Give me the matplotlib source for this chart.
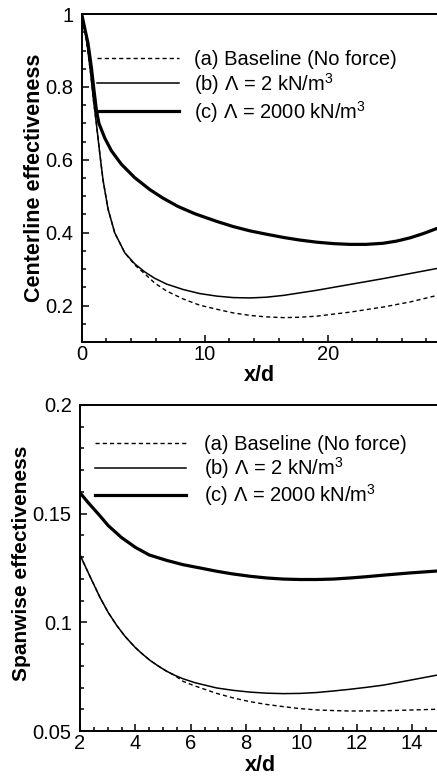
import matplotlib
matplotlib.use('Agg')
from matplotlib import pyplot as plt
from matplotlib.ticker import MultipleLocator, FormatStrFormatter

plt.rcParams['font.family'] = ['Liberation Sans', 'DejaVu Sans']
plt.rcParams['mathtext.default'] = 'regular'

# centerline effectiveness (top panel)
top_x_a = [0, 0.25, 0.5, 0.75, 0.95, 1.19, 1.46, 1.73, 2.14, 2.68, 3.5, 4.3, 5.1, 5.93,
           6.9, 8.26, 9.6, 10.98, 12.3, 13.68, 15, 16.4, 17.7, 19.1, 21.8, 24.5, 26.7,
           28.9, 29.5]
top_y_a = [1, 0.96, 0.9, 0.83, 0.765, 0.70, 0.62, 0.545, 0.465, 0.40, 0.345, 0.312,
           0.288, 0.262, 0.24, 0.218, 0.201, 0.19, 0.18, 0.173, 0.169, 0.167, 0.168,
           0.171, 0.182, 0.196, 0.21, 0.228, 0.233]
top_x_b = [0, 0.25, 0.5, 0.75, 0.95, 1.19, 1.46, 1.73, 2.14, 2.68, 3.5, 4.3, 5.1, 5.93,
           6.9, 8.26, 9.6, 10.98, 12.3, 13.68, 15, 16.4, 19.1, 21.8, 24.5, 28.9, 29.5]
top_y_b = [1, 0.96, 0.9, 0.83, 0.765, 0.70, 0.62, 0.545, 0.465, 0.40, 0.345, 0.315,
           0.293, 0.275, 0.259, 0.244, 0.233, 0.226, 0.222, 0.221, 0.223, 0.228, 0.242,
           0.258, 0.274, 0.302, 0.306]
top_x_c = [0, 0.25, 0.51, 0.78, 1.0, 1.2, 1.4, 1.87, 2.41, 3.22, 4.31, 5.55, 6.6, 7.83,
           9.2, 10.98, 12.3, 13.68, 15, 16.4, 17.7, 19.1, 20.5, 21.8, 23.1, 24.5, 25.6,
           26.7, 27.8, 28.9, 29.5]
top_y_c = [1, 0.96, 0.92, 0.855, 0.79, 0.735, 0.70, 0.66, 0.625, 0.588, 0.551, 0.518,
           0.495, 0.472, 0.452, 0.431, 0.417, 0.405, 0.396, 0.387, 0.38, 0.374, 0.37,
           0.368, 0.368, 0.371, 0.377, 0.386, 0.398, 0.412, 0.42]

# spanwise effectiveness (bottom panel)
bot_x_a = [2, 2.2, 2.42, 2.72, 3.02, 3.33, 3.63, 3.99, 4.23, 4.53, 4.84, 5.13, 5.43,
           5.73, 6.16, 6.94, 7.54, 8.14, 8.75, 9.35, 9.95, 10.55, 11.15, 11.76, 12.96,
           14.9, 15.5]
bot_y_a = [0.131, 0.1255, 0.1195, 0.1115, 0.1045, 0.0985, 0.0935, 0.0885, 0.0857,
           0.0825, 0.0798, 0.0775, 0.0755, 0.0728, 0.0707, 0.0673, 0.0652, 0.0635,
           0.0622, 0.0612, 0.0603, 0.0597, 0.0594, 0.0592, 0.0593, 0.060, 0.0602]
bot_x_b = [2, 2.2, 2.42, 2.72, 3.02, 3.33, 3.63, 3.99, 4.23, 4.53, 4.84, 5.13, 5.43,
           5.73, 6.16, 6.94, 7.54, 8.14, 8.75, 9.35, 9.95, 10.55, 11.15, 11.76, 12.36,
           12.96, 13.9, 14.9, 15.5]
bot_y_b = [0.131, 0.1255, 0.1195, 0.1115, 0.1045, 0.0985, 0.0935, 0.0885, 0.0857,
           0.0825, 0.0798, 0.0775, 0.0756, 0.074, 0.0722, 0.0698, 0.0687, 0.0679,
           0.0674, 0.0672, 0.0673, 0.0677, 0.0684, 0.0692, 0.0701, 0.0711, 0.0733,
           0.0757, 0.0771]
bot_x_c = [2, 2.3, 2.72, 3.02, 3.5, 4.0, 4.5, 5.13, 5.73, 6.34, 6.94, 7.5, 8.14, 8.75,
           9.35, 9.95, 10.55, 11.15, 11.76, 12.36, 12.96, 13.9, 14.9, 15.5]
bot_y_c = [0.1596, 0.155, 0.149, 0.1445, 0.139, 0.1345, 0.131, 0.1285, 0.1265, 0.125,
           0.1235, 0.1223, 0.1212, 0.1204, 0.1199, 0.1197, 0.1197, 0.1199, 0.1204,
           0.121, 0.1217, 0.1227, 0.1236, 0.1241]

labels = ['(a) Baseline (No force)', '(b) Λ = 2 kN/m$^3$', '(c) Λ = 2000 kN/m$^3$']

fig = plt.figure(figsize=(4.37, 7.77), dpi=100)
# both panels run past the right edge of the picture, as in the original
ax1 = fig.add_axes([0.187, 0.5598, 0.8304, 0.4221])
ax2 = fig.add_axes([0.1831, 0.0592, 0.8547, 0.4196])

for ax, xs, ys in [(ax1, (top_x_a, top_x_b, top_x_c), (top_y_a, top_y_b, top_y_c)),
                   (ax2, (bot_x_a, bot_x_b, bot_x_c), (bot_y_a, bot_y_b, bot_y_c))]:
    ax.plot(xs[0], ys[0], color='k', linewidth=1.0, linestyle=(0, (3, 2.2)), label=labels[0])
    ax.plot(xs[1], ys[1], color='k', linewidth=1.1, label=labels[1])
    ax.plot(xs[2], ys[2], color='k', linewidth=2.3, label=labels[2])
    for s in ax.spines.values():
        s.set_linewidth(1.4)
    ax.tick_params(which='both', direction='in', labelsize=14.5, top=False, right=False, width=1.1)
    ax.tick_params(which='major', length=5)
    ax.tick_params(which='minor', length=2.8)
    ax.tick_params(axis='y', pad=6)
    ax.tick_params(axis='x', pad=2)
    ax.yaxis.set_major_formatter(FormatStrFormatter('%g'))
    ax.set_xlabel('x/d', fontsize=15.5, fontweight='bold')

ax1.set_xlim(0, 29.5)
ax1.set_ylim(0.1, 1)
ax1.xaxis.set_major_locator(MultipleLocator(10))
ax1.xaxis.set_minor_locator(MultipleLocator(2))
ax1.yaxis.set_major_locator(MultipleLocator(0.2))
ax1.yaxis.set_minor_locator(MultipleLocator(0.05))
ax1.set_ylabel('Centerline effectiveness', fontsize=15.5, fontweight='bold')
ax1.yaxis.set_label_coords(-0.100, 0.5)
ax1.xaxis.set_label_coords(0.491, -0.070)
ax1.legend(loc='upper left', bbox_to_anchor=(0.041, 0.891), frameon=False, fontsize=14.5,
           handlelength=4.1, handletextpad=0.75, labelspacing=0.1, borderpad=0, borderaxespad=0)

ax2.set_xlim(2, 15.5)
ax2.set_ylim(0.05, 0.2)
ax2.xaxis.set_major_locator(MultipleLocator(2))
ax2.xaxis.set_minor_locator(MultipleLocator(0.5))
ax2.yaxis.set_major_locator(MultipleLocator(0.05))
ax2.yaxis.set_minor_locator(MultipleLocator(0.01))
ax2.set_ylabel('Spanwise effectiveness', fontsize=15, fontweight='bold')
ax2.yaxis.set_label_coords(-0.131, 0.515)
ax2.xaxis.set_label_coords(0.482, -0.074)
ax2.legend(loc='upper left', bbox_to_anchor=(0.040, 0.907), frameon=False, fontsize=14.5,
           handlelength=4.5, handletextpad=0.9, labelspacing=0.05, borderpad=0, borderaxespad=0)

fig.savefig('out.png', dpi=100)
